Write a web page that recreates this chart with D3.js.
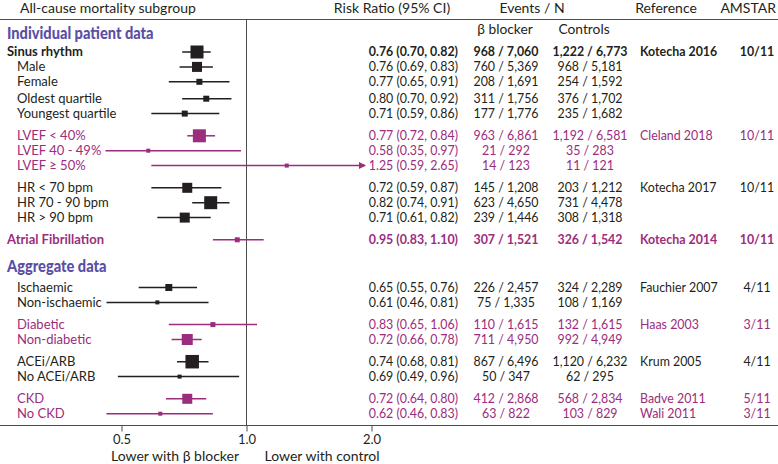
<!DOCTYPE html>
<html>
<head>
<meta charset="utf-8">
<script src="https://cdn.jsdelivr.net/npm/d3@7"></script>
<style>
  html, body { margin: 0; padding: 0; background: #fff; }
  svg { display: block; font-family: Lato, "Open Sans", sans-serif; }
</style>
</head>
<body>
<svg id="chart" width="778" height="464"></svg>
<script>
// ---------------- DATA ----------------
const labels = ["Sinus rhythm","Male","Female","Oldest quartile","Youngest quartile",
  "LVEF < 40%","LVEF 40 - 49%","LVEF \u2265 50%",
  "HR < 70 bpm","HR 70 - 90 bpm","HR > 90 bpm",
  "Atrial Fibrillation",
  "Ischaemic","Non-ischaemic","Diabetic","Non-diabetic","ACEi/ARB","No ACEi/ARB","CKD","No CKD"];
const level = [0,1,1,1,1, 1,1,1, 1,1,1, 0, 1,1,1,1,1,1,1,1];
const studyGroup = [0,0,0,0,0, 1,1,1, 2,2,2, 3, 4,4,5,5,6,6,7,7];
const subgroup = ["Overall","Sex","Sex","Age","Age","LVEF","LVEF","LVEF","HR","HR","HR","Overall",
  "Aetiology","Aetiology","Diabetes","Diabetes","RAS inhibitor","RAS inhibitor","Kidney","Kidney"];
const rr = [0.76,0.76,0.77,0.80,0.71, 0.77,0.58,1.25, 0.72,0.82,0.71, 0.95, 0.65,0.61,0.83,0.72,0.74,0.69,0.72,0.62];
const lo = [0.70,0.69,0.65,0.70,0.59, 0.72,0.35,0.59, 0.59,0.74,0.61, 0.83, 0.55,0.46,0.65,0.66,0.68,0.49,0.64,0.46];
const hi = [0.82,0.83,0.91,0.92,0.86, 0.84,0.97,2.65, 0.87,0.91,0.82, 1.10, 0.76,0.81,1.06,0.78,0.81,0.96,0.80,0.83];
const weights = [13,10,6,6,6, 13,4,4, 10,13,10, 5, 7,4,5,11,13.5,4,10,4];
const bbEvents = [968,760,208,311,177, 963,21,14, 145,623,239, 307, 226,75,110,711,867,50,412,63];
const bbN = [7060,5369,1691,1756,1776, 6861,292,123, 1208,4650,1446, 1521, 2457,1335,1615,4950,6496,347,2868,822];
const ctEvents = [1222,968,254,376,235, 1192,35,11, 203,731,308, 326, 324,108,132,992,1120,62,568,103];
const ctN = [6773,5181,1592,1702,1682, 6581,283,121, 1212,4478,1318, 1542, 2289,1169,1615,4949,6232,295,2834,829];
const references = ["Kotecha 2016","","","","", "Cleland 2018","","", "Kotecha 2017","","", "Kotecha 2014",
  "Fauchier 2007","","Haas 2003","","Krum 2005","","Badve 2011","Wali 2011"];
const amstar = ["10/11","","","","", "10/11","","", "10/11","","", "10/11", "4/11","","3/11","","4/11","","5/11","3/11"];
const sectionTitles = ["Individual patient data","Aggregate data"];
const sectionStart = [0, 12];
const tickValues = [0.5, 1.0, 2.0];
const axisNotes = ["Lower with \u03b2 blocker","Lower with control"];
const headers = ["All-cause mortality subgroup","Risk Ratio (95% CI)","Events / N","Reference","AMSTAR"];
const subHeaders = ["\u03b2 blocker","Controls"];

// ---------------- LAYOUT ----------------
const W = 778, H = 464;
const BLACK = "#231f20", MAGENTA = "#9c2c7d", SECTION = "#5a4ea6", RULE = "#4d4d4d";
const FS = 12.4;
const svg = d3.select("#chart");

const x = d3.scaleLog().domain([0.5, 2]).range([121.5, 371.5]);
const plotLeft = 105.5, plotRight = 365;
const sizeScale = d3.scaleLinear().domain([0, 14]).range([0, 14]);

// row y positions
const ys = [];
{
  let y = 52;
  labels.forEach((_, i) => {
    if (i > 0) {
      y += 14.9;
      if (studyGroup[i] !== studyGroup[i-1]) y += 7.3;
      else if (subgroup[i] !== subgroup[i-1] && subgroup[i-1] !== "Overall") y += 2;
      if (sectionStart.includes(i)) y += 25.5;
    }
    ys.push(y);
  });
}
const colorOf = i => (studyGroup[i] % 2 === 1 ? MAGENTA : BLACK);
const isBold = i => level[i] === 0;

const fmt2 = d3.format(".2f");
const fmtN = d3.format(",");

// rules
svg.append("line").attr("x1", 0).attr("x2", W).attr("y1", 19.5).attr("y2", 19.5)
  .attr("stroke", RULE).attr("stroke-width", 1);
svg.append("line").attr("x1", 0).attr("x2", W).attr("y1", 425.5).attr("y2", 425.5)
  .attr("stroke", RULE).attr("stroke-width", 1);
svg.append("line").attr("x1", x(1)).attr("x2", x(1)).attr("y1", 19.5).attr("y2", 425.5)
  .attr("stroke", RULE).attr("stroke-width", 1);

// axis
const axis = d3.axisBottom(x).tickValues(tickValues).tickFormat(d3.format(".1f")).tickSize(6).tickPadding(3);
const gAxis = svg.append("g").attr("transform", "translate(0,425.5)").call(axis);
gAxis.select(".domain").remove();
gAxis.selectAll(".tick line").attr("stroke", RULE);
gAxis.selectAll(".tick text").attr("font-family", "Lato, 'Open Sans', sans-serif").attr("font-size", 13).attr("fill", BLACK);

svg.append("text").attr("x", 175).attr("y", 461).attr("text-anchor", "middle")
  .attr("font-size", 14).attr("fill", BLACK).text(axisNotes[0]);
svg.append("text").attr("x", 322).attr("y", 461).attr("text-anchor", "middle")
  .attr("font-size", 14).attr("fill", BLACK).text(axisNotes[1]);

// headers
const hdr = [[20, "start"], [392, "middle"], [532, "middle"], [666, "middle"], [776, "end"]];
headers.forEach((h, k) => {
  svg.append("text").attr("x", hdr[k][0]).attr("y", 12.5).attr("text-anchor", hdr[k][1])
    .attr("font-size", 14).attr("fill", BLACK).text(h);
});
svg.append("text").attr("x", 505).attr("y", 33.5).attr("text-anchor", "middle")
  .attr("font-size", 13.8).attr("fill", BLACK).text(subHeaders[0]);
svg.append("text").attr("x", 584).attr("y", 33.5).attr("text-anchor", "middle")
  .attr("font-size", 13.8).attr("fill", BLACK).text(subHeaders[1]);

// section titles
sectionTitles.forEach((t, k) => {
  const yb = ys[sectionStart[k]] - (k === 0 ? 13 : 16);
  svg.append("text").attr("transform", `translate(7,${yb}) scale(0.86,1)`)
    .attr("font-size", 17).attr("font-weight", 900).attr("fill", SECTION).text(t);
});

// rows (datum = row index)
const idx = labels.map((_, i) => i);
const rows = svg.append("g").selectAll("g").data(idx).join("g");

rows.append("text")
  .attr("transform", i => `translate(${level[i] === 0 ? 7 : 17},${ys[i]}) scale(1.05,1)`)
  .attr("dy", "0.36em")
  .attr("font-size", FS)
  .attr("font-weight", i => isBold(i) ? 700 : 400)
  .attr("fill", i => colorOf(i))
  .text(i => labels[i]);

// CI lines
rows.append("line")
  .attr("x1", i => Math.max(x(lo[i]), plotLeft))
  .attr("x2", i => Math.min(x(hi[i]), plotRight))
  .attr("y1", i => ys[i]).attr("y2", i => ys[i])
  .attr("stroke", i => colorOf(i)).attr("stroke-width", 1.5);

// arrowheads for intervals running past the plot edge
rows.filter(i => x(hi[i]) > plotRight).append("path")
  .attr("d", i => `M${plotRight + 1},${ys[i]} l-7,-3.5 l0,7 z`)
  .attr("fill", i => colorOf(i));

// squares
rows.append("rect")
  .attr("x", i => x(rr[i]) - sizeScale(weights[i]) / 2)
  .attr("y", i => ys[i] - sizeScale(weights[i]) / 2)
  .attr("width", i => sizeScale(weights[i]))
  .attr("height", i => sizeScale(weights[i]))
  .attr("fill", i => colorOf(i));

// numeric / text columns
function col(xp, anchor, fn) {
  rows.append("text")
    .attr("x", xp).attr("y", i => ys[i]).attr("dy", "0.36em")
    .attr("text-anchor", anchor)
    .attr("font-size", FS)
    .attr("font-weight", i => isBold(i) ? 700 : 400)
    .attr("fill", i => colorOf(i))
    .text(i => fn(i));
}
col(458, "end", i => `${fmt2(rr[i])} (${fmt2(lo[i])}, ${fmt2(hi[i])})`);
col(506, "middle", i => `${fmtN(bbEvents[i])} / ${fmtN(bbN[i])}`);
col(590, "middle", i => `${fmtN(ctEvents[i])} / ${fmtN(ctN[i])}`);
col(640, "start", i => references[i]);
col(757, "middle", i => amstar[i]);
</script>
</body>
</html>
